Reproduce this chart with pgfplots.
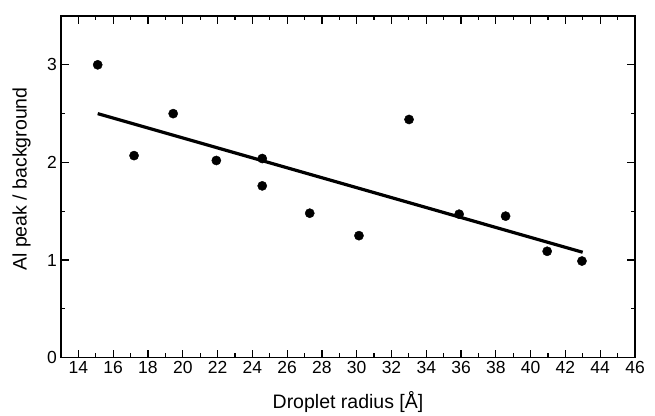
\documentclass[border=0pt]{standalone}
\usepackage{fontspec}
\setmainfont{Liberation Sans}
\usepackage{pgfplots}
\pgfplotsset{compat=1.18}
\begin{document}
\begin{tikzpicture}
\begin{axis}[
    scale only axis, width=574pt, height=341.7pt,
    xmin=13, xmax=46, ymin=0, ymax=3.5,
    xtick={14,16,...,46}, ytick={0,1,2,3},
    minor x tick num=1, minor y tick num=1,
    tick align=inside,
    major tick length=7.7pt, minor tick length=4.3pt,
    every tick/.style={black, line width=1.2pt},
    axis line style={line width=1.4pt},
    /pgf/number format/assume math mode=true,
    ticklabel style={font=\fontsize{17.5}{20}\selectfont},
    xticklabel style={yshift=-0.5pt},
    yticklabel style={xshift=-0.5pt},
    xlabel={Droplet radius [Å]},
    ylabel={Al peak / background},
    x label style={font=\fontsize{19.5}{23}\selectfont,
        at={(axis description cs:0.5,-0.148)}, anchor=base},
    y label style={font=\fontsize{19.5}{23}\selectfont,
        at={(axis description cs:-0.060,0.523)}, anchor=base},
]
\addplot[only marks, mark=*, mark size=4.6pt, black] coordinates {
    (15.11, 3.00)
    (17.20, 2.07)
    (19.45, 2.50)
    (21.93, 2.02)
    (24.57, 2.04)
    (24.57, 1.76)
    (27.30, 1.48)
    (30.13, 1.25)
    (33.01, 2.44)
    (35.89, 1.47)
    (38.56, 1.45)
    (40.95, 1.09)
    (42.95, 0.99)
};
\addplot[black, line width=3.2pt] coordinates {
    (15.11, 2.50)
    (42.99, 1.08)
};
\end{axis}
\pgfresetboundingbox
\path ([shift={(-61pt,-58.3pt)}]current axis.south west)
    rectangle ([shift={(20pt,16pt)}]current axis.north east);
\end{tikzpicture}
\end{document}
